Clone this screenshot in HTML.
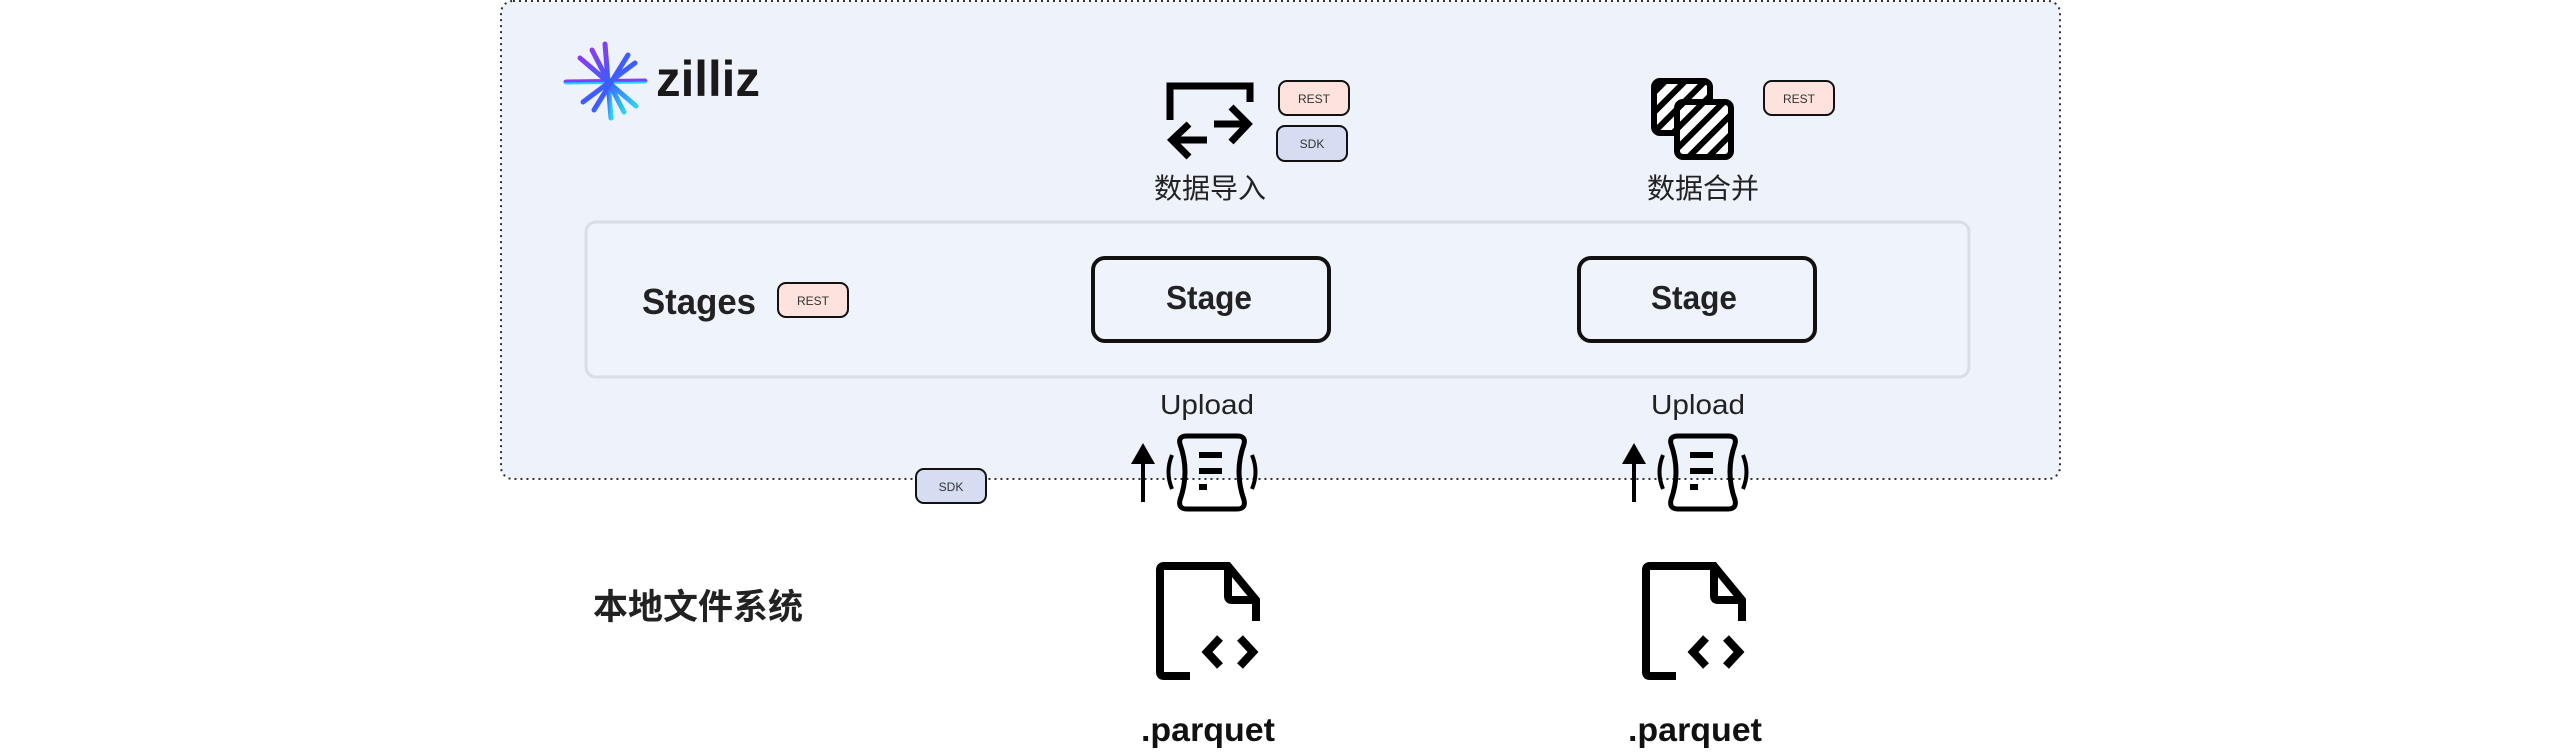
<!DOCTYPE html>
<html><head><meta charset="utf-8"><style>
html,body{margin:0;padding:0;background:#fff;}
body{width:2560px;height:752px;overflow:hidden;position:relative;}
svg{position:absolute;left:0;top:0;}
text{font-family:"Liberation Sans","Noto Sans CJK SC",sans-serif;}
</style></head><body>
<svg width="2560" height="752" viewBox="0 0 2560 752" xmlns="http://www.w3.org/2000/svg">
<defs>
<pattern id="hatch" patternUnits="userSpaceOnUse" width="14" height="14" patternTransform="rotate(45)">
<rect width="14" height="14" fill="#fff"/><rect width="6" height="14" fill="#000"/>
</pattern>
<linearGradient id="lg" x1="0" y1="0" x2="1" y2="1"><stop offset="0" stop-color="#8a3cf0"/><stop offset="0.5" stop-color="#3d5cff"/><stop offset="1" stop-color="#2ad4f0"/></linearGradient>
</defs>
<rect x="501" y="1" width="1559" height="478" rx="12" fill="#eef2fb" stroke="#333" stroke-width="2" stroke-dasharray="2 4"/>
<g stroke="url(#lg)" stroke-width="5" stroke-linecap="round">
<line x1="605" y1="44" x2="611" y2="118"/>
<line x1="566" y1="82" x2="645" y2="81"/>
<line x1="580" y1="58" x2="636" y2="106"/>
<line x1="635" y1="63" x2="583" y2="102"/>
<line x1="592" y1="50" x2="624" y2="112"/>
<line x1="628" y1="55" x2="594" y2="110"/>
</g>
<text x="656" y="96" font-size="50" font-weight="bold" fill="#1a1a1a" font-family="Liberation Sans,sans-serif" textLength="104" lengthAdjust="spacingAndGlyphs">zilliz</text>
<g fill="none" stroke="#000" stroke-width="7">
<polyline points="1170,120 1170,86 1250,86 1250,102"/>
<line x1="1171" y1="140" x2="1207" y2="140"/>
<polyline points="1189,124 1172,140 1189,157"/>
<line x1="1214" y1="124" x2="1248" y2="124"/>
<polyline points="1231,107 1248,124 1231,142"/>
</g>
<rect x="1279" y="81" width="70" height="34" rx="8" fill="#fde2de" stroke="#111" stroke-width="2"/>
<text x="1314" y="103" font-size="12" text-anchor="middle" fill="#333">REST</text>
<rect x="1277" y="126" width="70" height="35" rx="8" fill="#d6dcf2" stroke="#111" stroke-width="2"/>
<text x="1312" y="148" font-size="12" text-anchor="middle" fill="#333">SDK</text>
<text x="1210" y="198" font-size="28" text-anchor="middle" fill="#222">数据导入</text>
<rect x="1654" y="81" width="56" height="52" rx="6" fill="url(#hatch)" stroke="#000" stroke-width="6"/>
<rect x="1677" y="102" width="54" height="55" rx="6" fill="url(#hatch)" stroke="#000" stroke-width="6"/>
<rect x="1764" y="81" width="70" height="34" rx="8" fill="#fde2de" stroke="#111" stroke-width="2"/>
<text x="1799" y="103" font-size="12" text-anchor="middle" fill="#333">REST</text>
<text x="1703" y="198" font-size="28" text-anchor="middle" fill="#222">数据合并</text>
<rect x="586" y="222" width="1383" height="155" rx="10" fill="#eff3fb" stroke="#d9dde6" stroke-width="3"/>
<text x="642" y="314" font-size="36" font-weight="bold" fill="#222" textLength="114" lengthAdjust="spacingAndGlyphs">Stages</text>
<rect x="778" y="283" width="70" height="34" rx="8" fill="#fde2de" stroke="#111" stroke-width="2"/>
<text x="813" y="305" font-size="12" text-anchor="middle" fill="#333">REST</text>
<rect x="1093" y="258" width="236" height="83" rx="12" fill="#eff3fb" stroke="#111" stroke-width="4"/>
<text x="1209" y="309" font-size="33" font-weight="bold" text-anchor="middle" fill="#222" textLength="86" lengthAdjust="spacingAndGlyphs">Stage</text>
<rect x="1579" y="258" width="236" height="83" rx="12" fill="#eff3fb" stroke="#111" stroke-width="4"/>
<text x="1694" y="309" font-size="33" font-weight="bold" text-anchor="middle" fill="#222" textLength="86" lengthAdjust="spacingAndGlyphs">Stage</text>
<text x="1207" y="414" font-size="28" text-anchor="middle" fill="#222" textLength="94" lengthAdjust="spacingAndGlyphs">Upload</text>
<text x="1698" y="414" font-size="28" text-anchor="middle" fill="#222" textLength="94" lengthAdjust="spacingAndGlyphs">Upload</text>
<g id="up">
<line x1="1143" y1="462" x2="1143" y2="502" stroke="#000" stroke-width="4"/>
<polygon points="1131,464 1143,443 1155,464" fill="#000"/>
<path d="M1187,436 L1237,436 Q1246,436 1244,444 Q1234,472 1244,500 Q1246,509 1237,509 L1187,509 Q1178,509 1180,500 Q1190,472 1180,444 Q1178,436 1187,436 Z" fill="none" stroke="#000" stroke-width="5"/>
<rect x="1199" y="452" width="23" height="6" fill="#000"/>
<rect x="1199" y="468" width="23" height="6" fill="#000"/>
<rect x="1199" y="484" width="8" height="6" fill="#000"/>
<path d="M1172,455 Q1165,472 1172,489" fill="none" stroke="#000" stroke-width="4"/>
<path d="M1252,455 Q1259,472 1252,489" fill="none" stroke="#000" stroke-width="4"/>
</g>
<use href="#up" transform="translate(491,0)"/>
<rect x="916" y="469" width="70" height="34" rx="8" fill="#d6dcf2" stroke="#111" stroke-width="2"/>
<text x="951" y="491" font-size="12" text-anchor="middle" fill="#333">SDK</text>
<text x="593" y="619" font-size="35" font-weight="bold" fill="#222">本地文件系统</text>
<g id="file" fill="none" stroke="#000" stroke-width="8">
<path d="M1190,676 L1164,676 Q1160,676 1160,672 L1160,570 Q1160,566 1164,566 L1228,566 L1256,600 L1256,621"/>
<path d="M1228,566 L1228,596 Q1228,600 1232,600 L1256,600"/>
<polyline points="1220,638 1207,652 1220,666"/>
<polyline points="1240,638 1253,652 1240,666"/>
</g>
<use href="#file" transform="translate(486,0)"/>
<text x="1208" y="741" font-size="33" font-weight="bold" text-anchor="middle" fill="#111" textLength="134" lengthAdjust="spacingAndGlyphs">.parquet</text>
<text x="1695" y="741" font-size="33" font-weight="bold" text-anchor="middle" fill="#111" textLength="134" lengthAdjust="spacingAndGlyphs">.parquet</text>
</svg>
</body></html>
